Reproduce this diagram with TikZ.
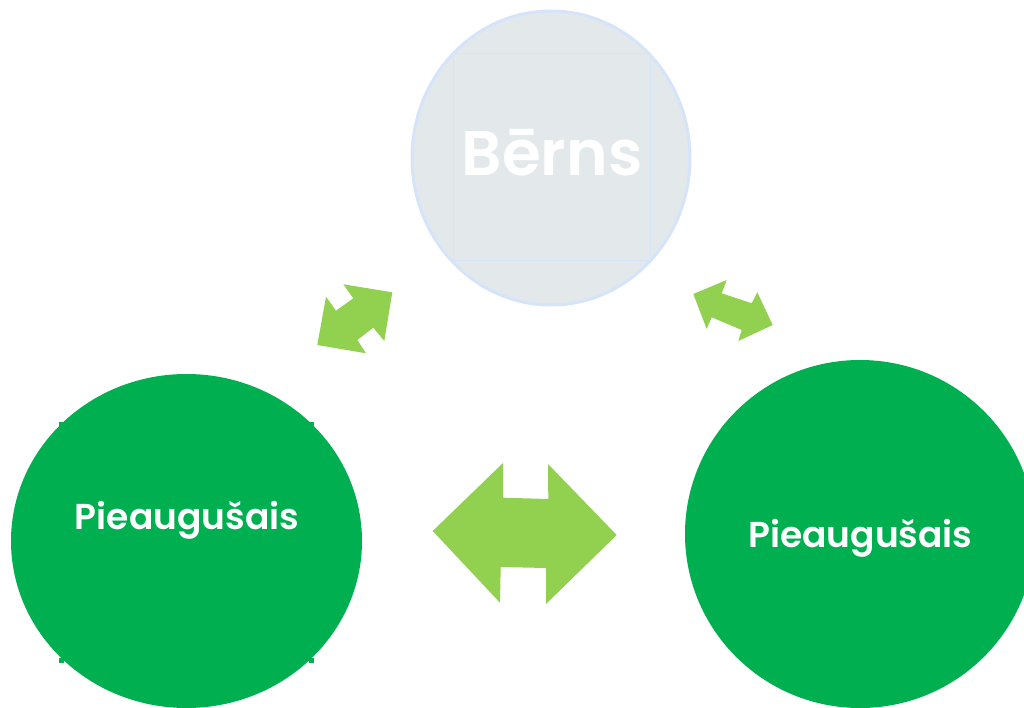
\documentclass[tikz,border=0pt]{standalone}
\usepackage{fontspec}
\setmainfont{Poppins}
\newfontfamily\semifont{Poppins SemiBold}
\usetikzlibrary{shapes.geometric}
\definecolor{topfill}{HTML}{E3E8EB}
\definecolor{topline}{HTML}{D6E4FA}
\definecolor{dkgreen}{HTML}{00AF50}
\definecolor{ltgreen}{HTML}{92D050}
\tikzset{
  topcirc/.style={ellipse, fill=topfill, draw=topline, line width=3pt, minimum width=278pt, minimum height=294pt, inner sep=0pt},
  greencirc/.style={ellipse, fill=dkgreen, draw=none, inner sep=0pt},
  lbl/.style={text=white},
  arr/.style={fill=ltgreen, draw=none},
  tab/.style={fill=dkgreen, draw=none}
}
\begin{document}
\begin{tikzpicture}[x=1pt,y=-1pt]
\useasboundingbox (0,0) rectangle (1024,708);
\clip (0,0) rectangle (1024,708);
% top circle
\node[topcirc] (child) at (551,158) {};
\draw[topline, line width=1pt] (453,54) rectangle (650,261);
\node[lbl, font=\fontsize{63}{70}\semifont] (childtxt) at (552,153) {Bērns};
% left circle
\node[greencirc, minimum width=351pt, minimum height=334pt] (adultL) at (186.5,541) {};
\foreach \p in {(61.5,424.5),(311.5,424.5),(61.5,660.5),(311.5,660.5)}
  \fill[dkgreen] \p +(-2.5,-2.5) rectangle +(2.5,2.5);
\node[lbl, font=\fontsize{36}{40}\semifont] (adultLtxt) at (187,520) {Pieaugušais};
% right circle
\node[greencirc, minimum width=350pt, minimum height=348pt] (adultR) at (860,534) {};
\node[lbl, font=\fontsize{36}{40}\semifont] (adultRtxt) at (860.5,538) {Pieaugušais};
% arrows
\fill[arr] (343.3,284.3) -- (392.3,292.3) -- (384.3,341) -- (373.3,327.7) -- (357.3,340) -- (366,353.3) -- (317.3,345) -- (326,296.7) -- (336,310.7) -- (353.3,298.3) -- cycle;
\fill[arr] (693.3,294) -- (726.7,280) -- (721.7,293.3) -- (751.7,303.3) -- (757.3,292.3) -- (772.7,325) -- (738.3,341) -- (741.7,330) -- (711.7,317.3) -- (706.7,329) -- cycle;
\fill[arr] (432.7,531) -- (503,463) -- (503,497.7) -- (548.3,499) -- (548,464) -- (616.7,535) -- (546,604) -- (546,568) -- (500.7,567) -- (500,602.7) -- cycle;
\end{tikzpicture}
\end{document}
